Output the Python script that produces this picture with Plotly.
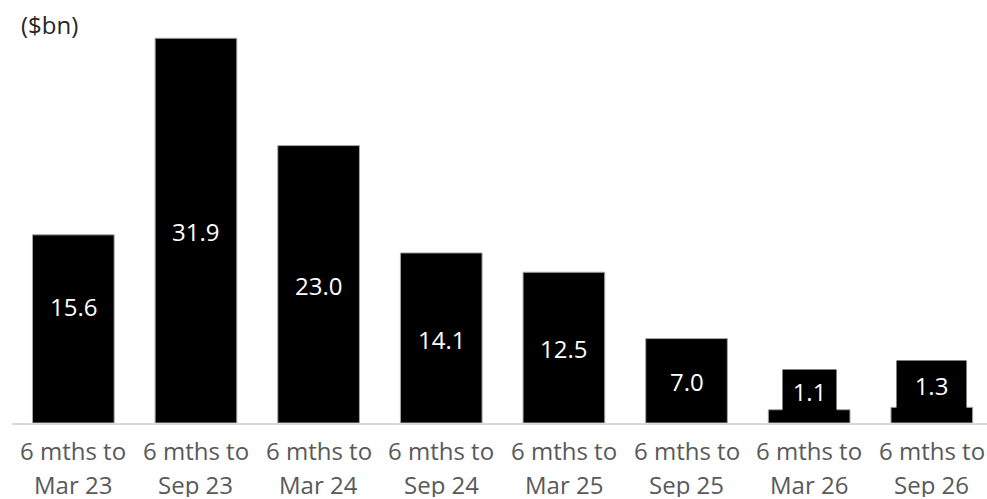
import plotly.graph_objects as go

# ---- data ----
periods = ["Mar 23", "Sep 23", "Mar 24", "Sep 24", "Mar 25", "Sep 25", "Mar 26", "Sep 26"]
values = [15.6, 31.9, 23.0, 14.1, 12.5, 7.0, 1.1, 1.3]
unit_label = "($bn)"
tick_prefix = "6 mths to"

# ---- layout constants (pixels) ----
LABEL_SHIFT = [22, -1, -1, -2, -1, -1, 25, 30]
BOX_W = [None, None, None, None, None, None, 51, 67]
BOX_H = [None, None, None, None, None, None, 40, 46]
TICK_LINE1 = -27   # pixel offset of first tick-label line below axis
TICK_LINE2 = -61

FONT = "Open Sans"
x = list(range(len(values)))

fig = go.Figure()
fig.add_trace(go.Bar(
    x=x, y=values,
    marker=dict(color="#000000", line=dict(color="#a6a6a6", width=1)),
    hoverinfo="skip",
))

for i, v in enumerate(values):
    ann = dict(
        x=i, y=v / 2, xref="x", yref="y",
        text=f"{v:.1f}", showarrow=False,
        font=dict(family=FONT, size=24, color="#ffffff"),
        bgcolor="#000000",
        xanchor="center", yanchor="middle",
        yshift=LABEL_SHIFT[i],
    )
    if BOX_W[i]:
        ann["width"] = BOX_W[i]
        ann["height"] = BOX_H[i]
    fig.add_annotation(**ann)

# category labels (two lines each)
for i, p in enumerate(periods):
    for txt, shift in ((tick_prefix, TICK_LINE1), (p, TICK_LINE2)):
        fig.add_annotation(
            x=i, y=0, xref="x", yref="paper",
            text=txt, showarrow=False, height=26,
            font=dict(family=FONT, size=24, color="#595959"),
            xanchor="center", yanchor="middle", yshift=shift,
        )

fig.add_annotation(
    x=0, y=1, xref="paper", yref="paper",
    text=unit_label, showarrow=False,
    font=dict(family=FONT, size=24, color="#262626"),
    xanchor="left", yanchor="middle", xshift=7, yshift=-24,
)

fig.update_layout(
    width=987, height=499,
    margin=dict(l=12, r=0, t=0, b=76, pad=0, autoexpand=False),
    paper_bgcolor="#ffffff", plot_bgcolor="#ffffff",
    bargap=0.334,
    showlegend=False,
    font=dict(family=FONT),
)
fig.update_xaxes(
    range=[-0.5, 7.45], automargin=False,
    tickmode="array", tickvals=x, showticklabels=False,
    showline=True, linecolor="#d9d9d9", linewidth=1.5,
    showgrid=False, ticks="", fixedrange=True,
)
fig.update_yaxes(
    range=[0, 35.07], automargin=False,
    showticklabels=False, showgrid=False, zeroline=False, showline=False,
    fixedrange=True,
)

fig.write_html(
    "out.html",
    config={"displayModeBar": False},
    post_script="document.body.style.margin='0';document.body.style.overflow='hidden';",
)
